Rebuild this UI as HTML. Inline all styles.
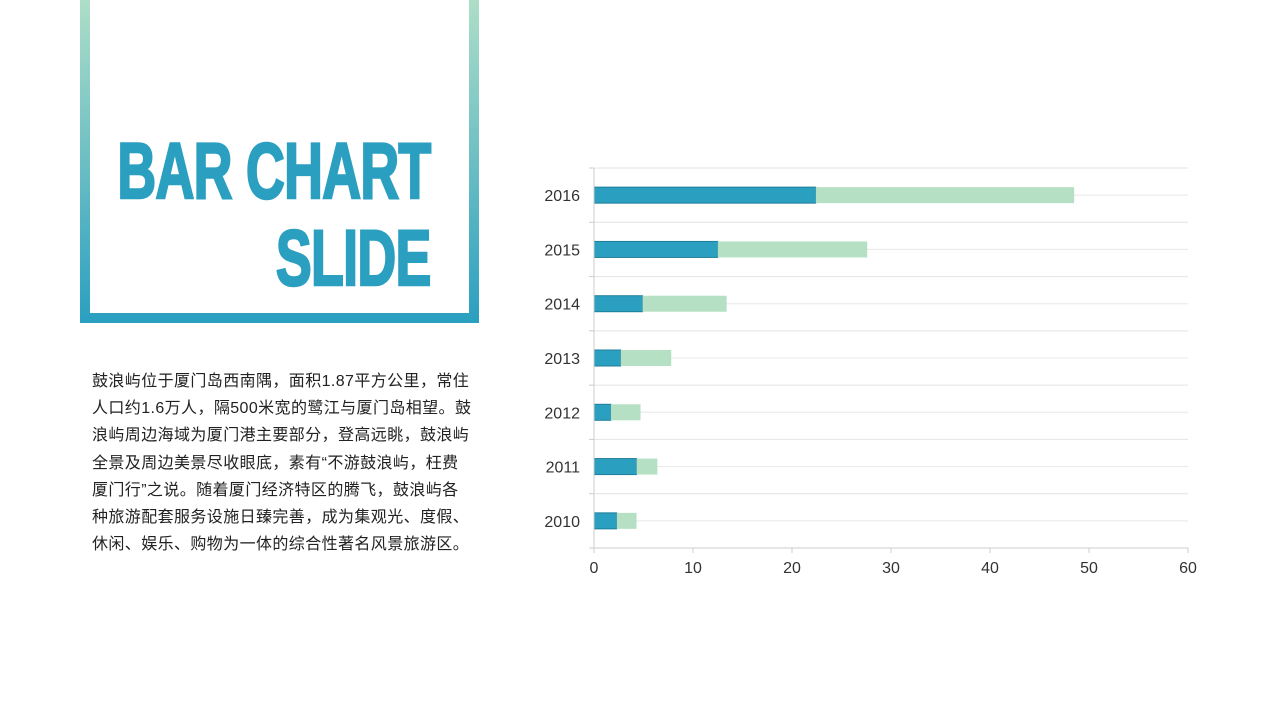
<!DOCTYPE html>
<html><head><meta charset="utf-8"><style>
body{margin:0;width:1280px;height:720px;background:#fff;overflow:hidden;position:relative;font-family:"Liberation Sans","Noto Sans CJK SC",sans-serif}
#frame{position:absolute;left:80px;top:-10px;width:399px;height:333px;background:linear-gradient(#b2e0c8,#2a9fc0)}
#inner{position:absolute;left:10px;top:0;width:379px;height:323px;background:#fff}
.t{position:absolute;font-family:"Liberation Sans",sans-serif;font-weight:bold;color:#2a9fc0;font-size:79px;line-height:80px;transform-origin:right top;white-space:nowrap;-webkit-text-stroke:2.5px #2a9fc0;letter-spacing:-1px}
#para{position:absolute;left:92px;top:368px;width:400px;font-size:16px;letter-spacing:0.4px;line-height:27.2px;color:#222;white-space:nowrap}
</style></head><body>
<div id="frame"><div id="inner"></div></div>
<div class="t" style="right:849px;top:131px;transform:scaleX(0.68)">BAR CHART</div>
<div class="t" style="right:849px;top:218px;transform:scaleX(0.68)">SLIDE</div>
<div id="para">鼓浪屿位于厦门岛西南隅，面积1.87平方公里，常住<br>人口约1.6万人，隔500米宽的鹭江与厦门岛相望。鼓<br>浪屿周边海域为厦门港主要部分，登高远眺，鼓浪屿<br>全景及周边美景尽收眼底，素有“不游鼓浪屿，枉费<br>厦门行”之说。随着厦门经济特区的腾飞，鼓浪屿各<br>种旅游配套服务设施日臻完善，成为集观光、度假、<br>休闲、娱乐、购物为一体的综合性著名风景旅游区。</div>
<svg id="chart" width="1280" height="720" style="position:absolute;left:0;top:0"></svg>
<script>
const categories=["2010","2011","2012","2013","2014","2015","2016"];
const seriesA=[2.3,4.3,1.7,2.7,4.9,12.5,22.4];
const seriesB=[2.0,2.1,3.0,5.1,8.5,15.1,26.1];
const xTicks=[0,10,20,30,40,50,60];
const svg=document.getElementById('chart');
const NS='http://www.w3.org/2000/svg';
const x0=594,x1=1188,yTop=168,yBot=548,xMax=60;
const band=(yBot-yTop)/categories.length;
const X=v=>x0+(v/xMax)*(x1-x0);
const Y=i=>yBot-band*(i+0.5);
function mk(t,a){const e=document.createElementNS(NS,t);for(const k in a)e.setAttribute(k,a[k]);svg.appendChild(e);return e;}
for(let i=0;i<=categories.length;i++){const y=yBot-band*i;
 const g=mk('line',{x1:x0,x2:x1,y1:y,y2:y,stroke:'#e4e4e4','stroke-width':1});
 
 
 const tk=mk('line',{x1:x0-5,x2:x0,y1:y,y2:y,stroke:'#ccc'});
 
 
}
categories.forEach((c,i)=>{const y=Y(i);
 const g=mk('line',{x1:x0,x2:x1,y1:y,y2:y,stroke:'#e8e8e8'});
 
 
 const a=mk('rect',{x:X(0),y:y-8,width:X(seriesA[i])-X(0),height:16,fill:'#2a9fc0',stroke:'#1f7f9c','stroke-width':1});
 
 
 const b=mk('rect',{x:X(seriesA[i]),y:y-8,width:X(seriesA[i]+seriesB[i])-X(seriesA[i]),height:16,fill:'#b5e0c4'});
 
 
 const t=mk('text',{x:580,y:y+6,'text-anchor':'end','font-size':16,fill:'#333'});t.textContent=c;
 
 
});
const ax=mk('line',{x1:x0,x2:x0,y1:yTop,y2:yBot,stroke:'#ccc'});


const bx=mk('line',{x1:x0,x2:x1,y1:yBot,y2:yBot,stroke:'#ccc'});


xTicks.forEach(v=>{
 const tk=mk('line',{x1:X(v),x2:X(v),y1:yBot,y2:yBot+5,stroke:'#ccc'});
 
 
 const t=mk('text',{x:X(v),y:573,'text-anchor':'middle','font-size':16,fill:'#333'});t.textContent=v;
 
 
});
</script>
</body></html>
